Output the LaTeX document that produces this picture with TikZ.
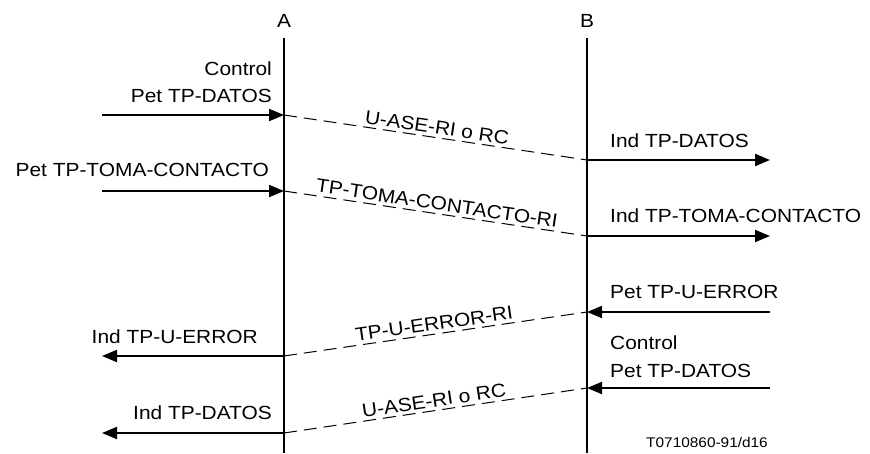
\documentclass[tikz,border=0pt]{standalone}
\usepackage{fontspec}
\setmainfont{Liberation Sans}[FakeStretch=1.1]
\usetikzlibrary{arrows.meta}
\begin{document}
\begin{tikzpicture}[x=1pt,y=-1pt,
  txt/.style={inner sep=0pt,font=\fontsize{19}{22}\selectfont},
  small/.style={inner sep=0pt,font=\fontsize{14}{16}\selectfont},
  life/.style={line width=2pt},
  msg/.style={line width=2pt,-{Triangle[length=15pt,width=12pt]}},
  pdu/.style={line width=1pt,dash pattern=on 13pt off 7pt},
  plab/.style={txt,sloped,above,inner sep=0pt,yshift=3pt}]
\useasboundingbox (0,0) rectangle (870,453);
% lifelines
\node[txt,anchor=base] (A) at (284,27) {A};
\node[txt,anchor=base] (B) at (587,27) {B};
\coordinate (Atop) at (284,38);
\coordinate (Abot) at (284,453);
\coordinate (Btop) at (587,38);
\coordinate (Bbot) at (587,453);
\draw[life] (Atop) -- (Abot);
\draw[life] (Btop) -- (Bbot);
% points on lifelines
\coordinate (A1) at (284,115);
\coordinate (B1) at (587,160);
\coordinate (A2) at (284,191);
\coordinate (B2) at (587,236);
\coordinate (B3) at (587,312);
\coordinate (A3) at (284,356);
\coordinate (B4) at (587,388);
\coordinate (A4) at (284,433);
% free ends
\coordinate (L1) at (102,115);
\coordinate (R1) at (770,160);
\coordinate (L2) at (102,191);
\coordinate (R2) at (770,236);
\coordinate (R3) at (770,312);
\coordinate (L3) at (102,356);
\coordinate (R4) at (770,388);
\coordinate (L4) at (102,433);
% messages
\draw[msg] (L1) -- (A1);
\draw[pdu] (A1) -- node[plab] (p1) {U-ASE-RI o RC} (B1);
\draw[msg] (B1) -- (R1);
\draw[msg] (L2) -- (A2);
\draw[pdu] (A2) -- node[plab] (p2) {TP-TOMA-CONTACTO-RI} (B2);
\draw[msg] (B2) -- (R2);
\draw[msg] (R3) -- (B3);
\draw[pdu] (A3) -- node[plab] (p3) {TP-U-ERROR-RI} (B3);
\draw[msg] (A3) -- (L3);
\draw[msg] (R4) -- (B4);
\draw[pdu] (A4) -- node[plab] (p4) {U-ASE-RI o RC} (B4);
\draw[msg] (A4) -- (L4);
% primitive labels
\node[txt,anchor=base east] (t1) at (272,75) {Control};
\node[txt,anchor=base east] (t2) at (272,102) {Pet TP-DATOS};
\node[txt,anchor=base west] (t3) at (610,147) {Ind TP-DATOS};
\node[txt,anchor=base east] (t4) at (269,176) {Pet TP-TOMA-CONTACTO};
\node[txt,anchor=base west] (t5) at (610,222) {Ind TP-TOMA-CONTACTO};
\node[txt,anchor=base west] (t6) at (610,298) {Pet TP-U-ERROR};
\node[txt,anchor=base east] (t7) at (258,343) {Ind TP-U-ERROR};
\node[txt,anchor=base west] (t8) at (610,349) {Control};
\node[txt,anchor=base west] (t9) at (610,377) {Pet TP-DATOS};
\node[txt,anchor=base east] (t10) at (272,419) {Ind TP-DATOS};
\node[small,anchor=base east] (fn) at (768,447) {T0710860-91/d16};
\end{tikzpicture}
\end{document}
